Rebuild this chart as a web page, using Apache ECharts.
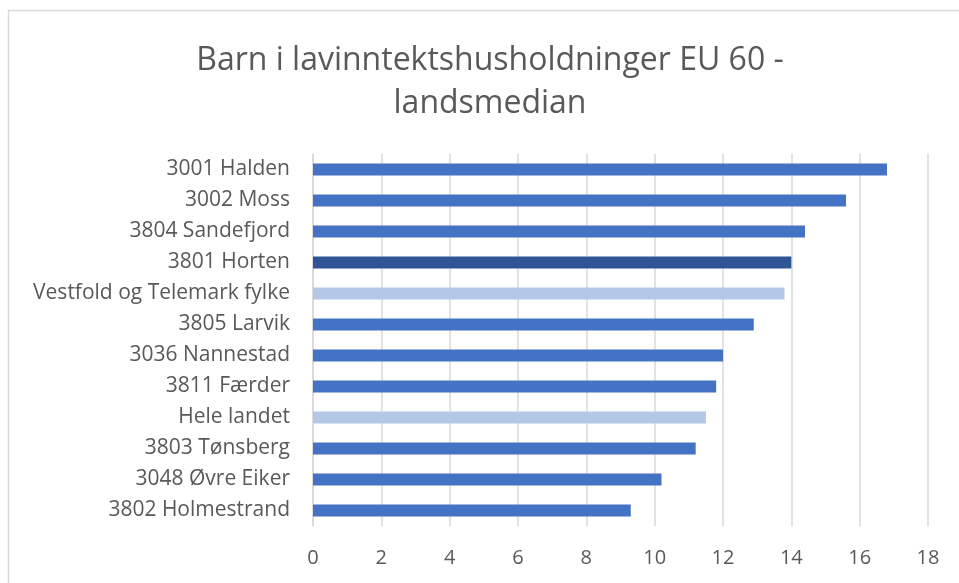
<!DOCTYPE html>
<html>
<head>
<meta charset="utf-8">
<title>Barn i lavinntektshusholdninger</title>
<script src="https://cdn.jsdelivr.net/npm/echarts@6/dist/echarts.min.js"></script>
<style>
  html, body { margin: 0; padding: 0; background: #fff; }
  #chart { width: 959px; height: 583px; }
</style>
</head>
<body>
<div id="chart"></div>
<script>
// data, top to bottom as in the picture
var kommuner = ['3001 Halden', '3002 Moss', '3804 Sandefjord', '3801 Horten',
  'Vestfold og Telemark fylke', '3805 Larvik', '3036 Nannestad', '3811 Færder',
  'Hele landet', '3803 Tønsberg', '3048 Øvre Eiker', '3802 Holmestrand'];
var andel = [16.8, 15.6, 14.4, 14.0, 13.8, 12.9, 12.0, 11.8, 11.5, 11.2, 10.2, 9.3];
var xTicks = [0, 2, 4, 6, 8, 10, 12, 14, 16, 18];

var farger = { vanlig: '#4472C4', horten: '#2F5597', snitt: '#B4C7E7' };

function fargeFor(navn) {
  if (navn === '3801 Horten') return farger.horten;
  if (navn === 'Vestfold og Telemark fylke' || navn === 'Hele landet') return farger.snitt;
  return farger.vanlig;
}

var chart = echarts.init(document.getElementById('chart'));

var option = {
  animation: false,
  textStyle: { fontFamily: 'Open Sans' },
  graphic: [{
    type: 'rect',
    shape: { x: 8.5, y: 10.5, width: 960, height: 600 },
    style: { fill: 'none', stroke: '#D9D9D9', lineWidth: 1.5 },
    silent: true
  }],
  title: {
    text: 'Barn i lavinntektshusholdninger EU 60 -\nlandsmedian',
    left: 485,
    top: 34,
    textAlign: 'center',
    textStyle: {
      fontFamily: 'Open Sans',
      fontSize: 32,
      fontWeight: 'normal',
      color: '#595959',
      lineHeight: 43
    }
  },
  grid: { left: 313, right: 31, top: 154, height: 372 },
  xAxis: {
    type: 'value',
    min: xTicks[0],
    max: xTicks[xTicks.length - 1],
    interval: 2,
    axisLine: { show: false },
    axisTick: { show: false },
    axisLabel: { color: '#595959', fontSize: 20, margin: 22 },
    splitLine: { lineStyle: { color: '#D9D9D9', width: 1.5 } }
  },
  yAxis: {
    type: 'category',
    inverse: true,
    data: kommuner,
    axisLine: { show: true, lineStyle: { color: '#D9D9D9', width: 1.5 } },
    axisTick: { show: false },
    axisLabel: { color: '#595959', fontSize: 21, margin: 23 }
  },
  series: [{
    type: 'bar',
    barWidth: 12,
    data: andel.map(function (v, i) {
      return { value: v, itemStyle: { color: fargeFor(kommuner[i]) } };
    })
  }]
};

chart.setOption(option);
</script>
</body>
</html>
